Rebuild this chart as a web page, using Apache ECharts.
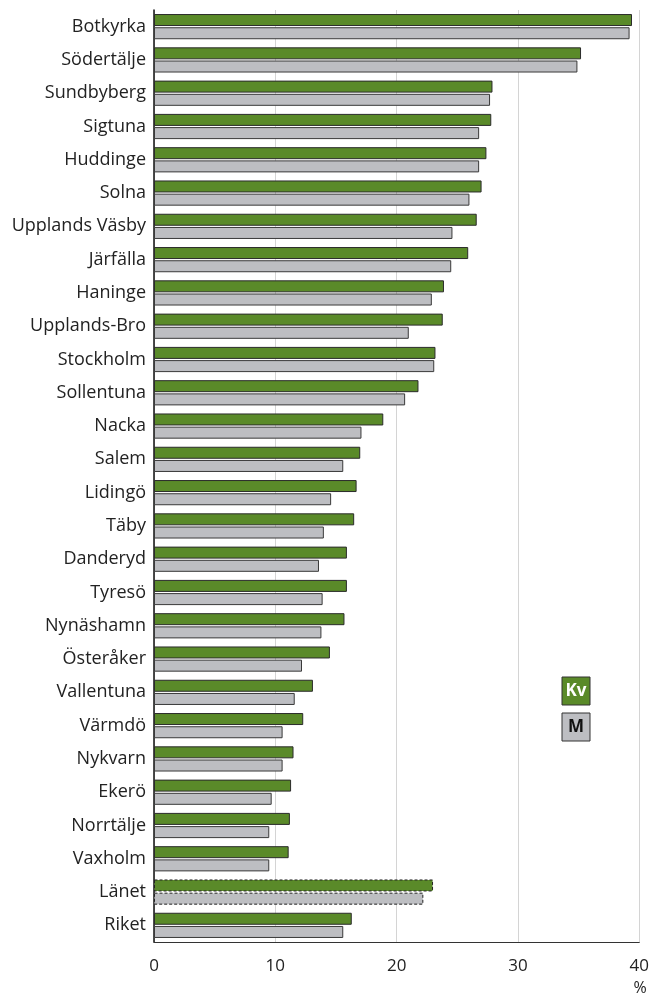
<!DOCTYPE html>
<html>
<head>
<meta charset="utf-8">
<script src="https://cdn.jsdelivr.net/npm/echarts@6/dist/echarts.min.js"></script>
<style>html,body{margin:0;padding:0;background:#fff}#c{width:652px;height:996px}</style>
</head>
<body>
<div id="c"></div>
<script>
const categories = ["Botkyrka","Södertälje","Sundbyberg","Sigtuna","Huddinge","Solna","Upplands Väsby","Järfälla","Haninge","Upplands-Bro","Stockholm","Sollentuna","Nacka","Salem","Lidingö","Täby","Danderyd","Tyresö","Nynäshamn","Österåker","Vallentuna","Värmdö","Nykvarn","Ekerö","Norrtälje","Vaxholm","Länet","Riket"];
const kvinnor = [39.4,35.2,27.9,27.8,27.4,27.0,26.6,25.9,23.9,23.8,23.2,21.8,18.9,17.0,16.7,16.5,15.9,15.9,15.7,14.5,13.1,12.3,11.5,11.3,11.2,11.1,23.0,16.3];
const man = [39.2,34.9,27.7,26.8,26.8,26.0,24.6,24.5,22.9,21.0,23.1,20.7,17.1,15.6,14.6,14.0,13.6,13.9,13.8,12.2,11.6,10.6,10.6,9.7,9.5,9.5,22.2,15.6];
const xTicks = [0,10,20,30,40];

const dashedCat = "Länet";
function mk(vals){
  return vals.map((v,i)=> categories[i]===dashedCat ? {value:v, itemStyle:{borderType:[3,2], borderColor:'#222'}} : v);
}
const chart = echarts.init(document.getElementById('c'), null, {renderer:'canvas'});
chart.setOption({
  animation:false,
  grid:{left:154, right:12, top:10, bottom:54, containLabel:false},
  xAxis:{type:'value', min:0, max:40, interval:10,
    axisLine:{show:true, lineStyle:{color:'#333', width:1}},
    axisTick:{show:false},
    splitLine:{show:true, lineStyle:{color:'#d4d4d4', width:1}},
    axisLabel:{color:'#222', fontSize:17, fontFamily:'Open Sans', margin:16,
      formatter:(v)=> xTicks.includes(v) ? String(v) : ''}
  },
  yAxis:{type:'category', data:categories, inverse:true,
    axisLine:{show:true, lineStyle:{color:'#111', width:1.5}},
    axisTick:{show:false},
    axisLabel:{color:'#222', fontSize:18, fontFamily:'Open Sans', margin:8}
  },
  series:[
    {name:'Kv', type:'bar', data:mk(kvinnor), barWidth:12, barGap:'10%',
      itemStyle:{color:'#5a8a29', borderColor:'#2b2b2b', borderWidth:1}},
    {name:'M', type:'bar', data:mk(man), barWidth:12,
      itemStyle:{color:'#bdbec2', borderColor:'#3a3a3a', borderWidth:1}}
  ],
  graphic:[
    {type:'rect', shape:{x:562, y:677, width:28, height:28}, style:{fill:'#5a8a29', stroke:'#333', lineWidth:1}},
    {type:'text', x:576, y:691, style:{text:'Kv', fill:'#fff', font:'bold 17px "Open Sans"', align:'center', verticalAlign:'middle'}},
    {type:'rect', shape:{x:562, y:713, width:28, height:28}, style:{fill:'#bdbec2', stroke:'#333', lineWidth:1}},
    {type:'text', x:576, y:727, style:{text:'M', fill:'#111', font:'bold 17px "Open Sans"', align:'center', verticalAlign:'middle'}},
    {type:'text', x:640, y:988, style:{text:'%', fill:'#222', font:'16px "Open Sans"', align:'center', verticalAlign:'middle'}}
  ]
});
</script>
</body>
</html>
